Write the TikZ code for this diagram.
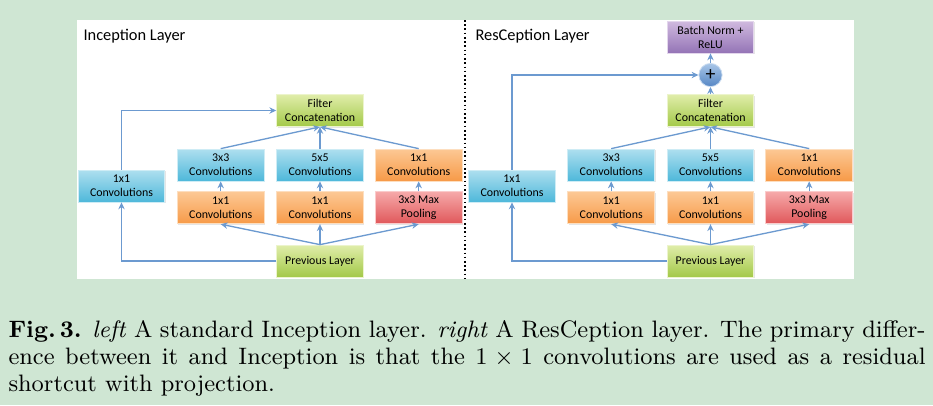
\documentclass[tikz,border=0pt]{standalone}
\usepackage{fontspec}
\newfontfamily\diagfont{Carlito}
\usepackage{xcolor}
\definecolor{PageGreen}{HTML}{CFE6D3}
\definecolor{ConvBlueTop}{HTML}{AEDFEF}
\definecolor{ConvBlueBot}{HTML}{4EB8DA}
\definecolor{ConvOrangeTop}{HTML}{FCC894}
\definecolor{ConvOrangeBot}{HTML}{F79A48}
\definecolor{PoolRedTop}{HTML}{F6A9A9}
\definecolor{PoolRedBot}{HTML}{E0575A}
\definecolor{LayerGreenTop}{HTML}{E0EDAA}
\definecolor{LayerGreenBot}{HTML}{A3C948}
\definecolor{NormPurpleTop}{HTML}{D0BADF}
\definecolor{NormPurpleBot}{HTML}{9474B6}
\definecolor{SumBlueTop}{HTML}{A9C6E8}
\definecolor{SumBlueBot}{HTML}{5586C4}
\definecolor{FlowBlue}{HTML}{6C9AD0}
\usetikzlibrary{arrows.meta, positioning, shadows}

\begin{document}
\begin{tikzpicture}[
  x=0.3785pt, y=-0.3785pt,
  % === GRUNDSTILE ===
  % Box fuer Schichten
  layerbox/.style={
    top color=#1Top,
    bottom color=#1Bot,
    draw=#1Top!60!white,
    line width=0.3pt,
    minimum width=32.8pt,
    minimum height=12.1pt,
    inner sep=0pt,
    align=center,
    drop shadow={opacity=0.2, shadow xshift=0.4pt, shadow yshift=-0.5pt},
    font=\diagfont\fontsize{4.5}{5.3}\selectfont
  },
  layerbox/.default=ConvBlue,
  % Summenknoten
  sumnode/.style={
    circle,
    top color=SumBlueTop,
    bottom color=SumBlueBot,
    draw=SumBlueTop!60!white,
    line width=0.3pt,
    minimum size=8.8pt,
    inner sep=0pt,
    font=\diagfont\fontsize{7.5}{7.5}\selectfont
  },
  % Ueberschriften
  paneltitle/.style={
    font=\diagfont\fontsize{6.2}{7}\selectfont,
    inner sep=0pt
  },
  % Bildunterschrift
  caption/.style={
    text width=347.1pt,
    align=justify,
    inner sep=0pt,
    font=\fontsize{9}{10.3}\selectfont
  },
  % Pfeile
  flow/.style={
    draw=FlowBlue,
    line width=0.5pt,
    -{Stealth[length=2.6pt, width=2.4pt]}
  }
]

% =============================================================================
% HINTERGRUND
% =============================================================================
\fill[PageGreen] (0,0) rectangle (933,405);
\fill[white] (77,20) rectangle (854,279);
\draw[densely dotted, line width=0.6pt] (465,20) -- (465,279);

% =============================================================================
% TITEL
% =============================================================================
\node[paneltitle, anchor=base west] (titleL) at (83,40) {Inception Layer};
\node[paneltitle, anchor=base west] (titleR) at (475,40) {ResCeption Layer};

% =============================================================================
% INCEPTION-BLOECKE (links und rechts gleich)
% =============================================================================
\foreach \s/\dx in {L/0, R/390.5} {
  % Obere Reihe
  \node[layerbox=ConvBlue] (one\s) at (\dx+121.5,186) {1x1\\Convolutions};
  \node[layerbox=ConvBlue] (three\s) at (\dx+220.7,165) {3x3\\Convolutions};
  \node[layerbox=ConvBlue] (five\s) at (\dx+320,165) {5x5\\Convolutions};
  \node[layerbox=ConvOrange] (proj\s) at (\dx+418.7,165) {1x1\\Convolutions};
  % Untere Reihe
  \node[layerbox=ConvOrange, below=3.8pt of three\s] (redA\s) {1x1\\Convolutions};
  \node[layerbox=ConvOrange, below=3.8pt of five\s] (redB\s) {1x1\\Convolutions};
  \node[layerbox=PoolRed, below=3.8pt of proj\s] (pool\s) {3x3 Max\\Pooling};
  % Ein- und Ausgang
  \node[layerbox=LayerGreen] (prev\s) at (\dx+320,261) {Previous Layer};
  \node[layerbox=LayerGreen] (concat\s) at (\dx+320,110.5) {Filter\\Concatenation};

  % Verbindungen
  \draw[flow] (prev\s.north) -- (redA\s.south);
  \draw[flow] (prev\s.north) -- (redB\s.south);
  \draw[flow] (prev\s.north) -- (pool\s.south);
  \draw[flow] (redA\s.north) -- (three\s.south);
  \draw[flow] (redB\s.north) -- (five\s.south);
  \draw[flow] (pool\s.north) -- (proj\s.south);
  \draw[flow] (three\s.north) -- (concat\s.south);
  \draw[flow] (five\s.north) -- (concat\s.south);
  \draw[flow] (proj\s.north) -- (concat\s.south);
  \draw[flow] (prev\s.west) -| (one\s.south);
}

% --- Links: 1x1 direkt in die Konkatenation ---
\draw[flow] (oneL.north) |- (concatL.west);

% --- Rechts: Residual-Verbindung ---
\node[sumnode] (sum) at (710.5,75) {+};
\node[layerbox=NormPurple] (norm) at (710.5,37) {Batch Norm +\\ReLU};
\draw[flow] (concatR.north) -- (sum.south);
\draw[flow] (sum.north) -- (norm.south);
\draw[flow] (oneR.north) |- (sum.west);

% =============================================================================
% BILDUNTERSCHRIFT
% =============================================================================
\node[caption, anchor=north west] (cap) at (8,320) {%
  \textbf{Fig.\,3.} \textit{left} A standard Inception layer. \textit{right} A
  ResCeption layer. The primary differ-\linebreak ence between it and Inception
  is that the $1\times1$ convolutions are used as a residual\linebreak
  shortcut with projection.};

\end{tikzpicture}
\end{document}
